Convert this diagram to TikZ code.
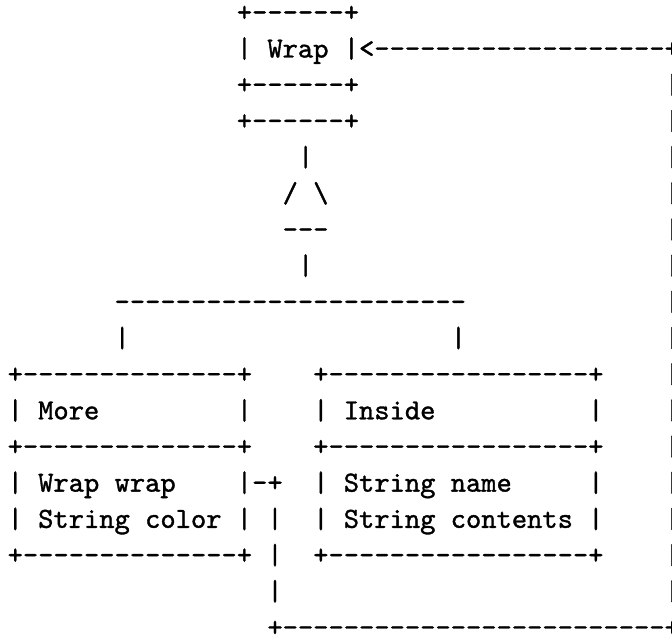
\documentclass[tikz,border=0pt]{standalone}
% Monospaced diagram: every glyph sits on a fixed character grid.
% The font is loaded by file name, so no TeX ligatures join the dashes;
% a slight emboldening gives the strokes their heavier typewriter weight.
\font\asciitt="[lmmono10-regular]:embolden=1.2" at 29.1pt
\tikzset{
  ascii/.style={anchor=base west, inner sep=0pt, outer sep=0pt, font=\asciitt, text=black},
}
% \cell{name}{column}{row}{text}: place text with its first character in the given cell
\newcommand{\cell}[4]{\node[ascii] (#1) at ({#2+0.5},{#3-1}) {#4};}
\begin{document}
\begin{tikzpicture}[x=15.28pt, y=-36.18pt]
  \path[use as bounding box, fill=white] (0,-0.589) rectangle (43.98,16.962);
  % the Wrap box and the return arrow
  \cell{wrapTop}{15}{1}{+------+}
  \cell{wrapRow}{15}{2}{| Wrap |<-------------------+}
  \cell{wrapBot}{15}{3}{+------+}
  \cell{wrapBase}{15}{4}{+------+}
  % inheritance triangle
  \cell{stemA}{19}{5}{|}
  \cell{triSides}{18}{6}{/ \char92}
  \cell{triBase}{18}{7}{---}
  \cell{stemB}{19}{8}{|}
  \cell{branch}{7}{9}{-----------------------}
  \cell{dropL}{7}{10}{|}
  \cell{dropR}{29}{10}{|}
  % More box
  \cell{moreTop}{0}{11}{+--------------+}
  \cell{moreName}{0}{12}{| More}
  \cell{moreNameR}{15}{12}{|}
  \cell{moreSep}{0}{13}{+--------------+}
  \cell{moreF1}{0}{14}{| Wrap wrap}
  \cell{moreF1R}{15}{14}{|-+}
  \cell{moreF2}{0}{15}{| String color | |}
  \cell{moreBot}{0}{16}{+--------------+ |}
  % Inside box
  \cell{insTop}{20}{11}{+-----------------+}
  \cell{insName}{20}{12}{| Inside}
  \cell{insNameR}{38}{12}{|}
  \cell{insSep}{20}{13}{+-----------------+}
  \cell{insF1}{20}{14}{| String name}
  \cell{insF1R}{38}{14}{|}
  \cell{insF2}{20}{15}{| String contents |}
  \cell{insBot}{20}{16}{+-----------------+}
  % link from More.wrap back up to Wrap
  \cell{linkDown}{17}{17}{|}
  \cell{linkBottom}{17}{18}{+-------------------------+}
  \foreach \r in {3,...,17} {
    \cell{linkUp\r}{43}{\r}{|}
  }
\end{tikzpicture}
\end{document}
